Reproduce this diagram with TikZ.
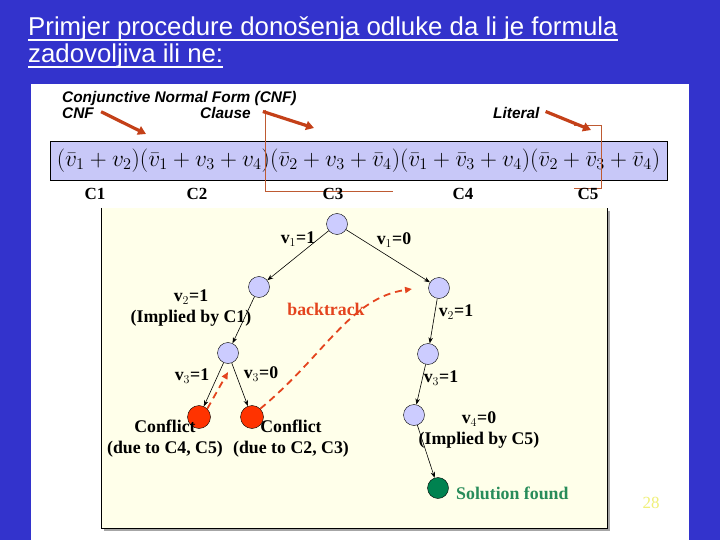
\documentclass[tikz,border=0pt]{standalone}
\usepackage{fontspec}
\setmainfont{Liberation Serif}
\setsansfont{Liberation Sans}
\usetikzlibrary{arrows.meta, positioning, calc}

\definecolor{slideblue}{RGB}{51,51,204}
\definecolor{cream}{RGB}{255,255,234}
\definecolor{lavender}{RGB}{200,200,248}
\definecolor{varfill}{RGB}{204,204,255}
\definecolor{pointerbrown}{RGB}{196,64,24}
\definecolor{bracketbrown}{RGB}{190,90,50}
\definecolor{conflictred}{RGB}{255,51,0}
\definecolor{backred}{RGB}{228,68,30}
\definecolor{solgreen}{RGB}{0,130,80}
\definecolor{soltext}{RGB}{40,140,90}
\definecolor{pageyellow}{RGB}{240,240,120}

\begin{document}
\begin{tikzpicture}[
    x=1pt, y=-1pt,
    title/.style={inner sep=0pt, text=white, font=\sffamily\fontsize{25.8}{30}\selectfont},
    cnflbl/.style={inner sep=0pt, font=\sffamily\bfseries\itshape\fontsize{15.4}{17}\selectfont},
    formula/.style={draw, fill=lavender, minimum width=617pt, minimum height=39pt, inner sep=0pt, font=\fontsize{20.74}{24}\selectfont},
    clslbl/.style={font=\bfseries\fontsize{17}{19}\selectfont},
    lbl/.style={align=center, inner sep=0pt, font=\bfseries\fontsize{17.8}{21}\selectfont},
    var/.style={circle, draw, fill=varfill, minimum size=21pt, inner sep=0pt},
    conflict/.style={var, fill=conflictred, minimum size=23pt},
    solution/.style={var, fill=solgreen, minimum size=21pt},
    edge/.style={-{Stealth[length=6pt, width=4.5pt]}, semithick},
    back/.style={-{Triangle[length=7pt, width=6pt]}, backred, line width=1.8pt, dash pattern=on 7pt off 5pt},
    pointer/.style={-{Triangle[length=8pt, width=9pt]}, pointerbrown, line width=3.2pt},
    bracket/.style={bracketbrown, line width=0.9pt}
]
    % slide
    \fill[slideblue] (0,0) rectangle (720,540);
    \fill[white] (31,84) rectangle (689,540);
    \useasboundingbox (0,0) rectangle (720,540);

    \node[title, anchor=base west] (ttl1) at (28,36) {Primjer procedure donošenja odluke da li je formula};
    \node[title, anchor=base west] (ttl2) at (28,63) {zadovoljiva ili ne:};
    \draw[white, line width=1.8pt] ($(ttl1.base west)+(0,4)$) -- ($(ttl1.base east)+(0,4)$);
    \draw[white, line width=1.8pt] ($(ttl2.base west)+(0,4)$) -- ($(ttl2.base east)+(0,4)$);

    % CNF formula
    \node[cnflbl, anchor=base west] (hdr) at (62,103) {Conjunctive Normal Form (CNF)};
    \node[cnflbl, anchor=base west] (lcnf) at (62,119) {CNF};
    \node[cnflbl, anchor=base west] (lcls) at (200,119) {Clause};
    \node[cnflbl, anchor=base west] (llit) at (493,119) {Literal};

    \node[formula] (cnf) at (358.5,160.5)
        {\scalebox{1.13}{$(\bar v_1+v_2)(\bar v_1+v_3+v_4)(\bar v_2+v_3+\bar v_4)(\bar v_1+\bar v_3+v_4)(\bar v_2+\bar v_3+\bar v_4)$}};

    \draw[bracket] (265,110) -- (265,191) -- (393,191);
    \draw[bracket] (574,125) -- (601,125) -- (601,188) -- (574,188);

    \coordinate (pcnf) at (146,134);
    \coordinate (pcls) at (314,128);
    \coordinate (plit) at (591,130);
    \draw[pointer] ($(lcnf.east)+(7,-2)$) -- (pcnf);
    \draw[pointer] ($(lcls.east)+(12,-2)$) -- (pcls);
    \draw[pointer] ($(llit.east)+(6,-2)$) -- (plit);

    \foreach \x/\n in {95/1, 197/2, 333/3, 463/4, 588/5}
        \node[clslbl] (cl\n) at (\x,194) {C\n};

    % search tree panel
    \fill[gray!70] (104,211) rectangle (610,531);
    \fill[cream] (101,208) rectangle (607,528);
    \draw (101,208) -- (101,528) -- (607,528) -- (607,208);

    \node[var] (root) at (337,224) {};
    \node[var] (a1) at (259,287) {};
    \node[var] (a2) at (228,353) {};
    \node[conflict] (k1) at (199,417) {};
    \node[conflict] (k2) at (252,417) {};
    \node[var] (b1) at (439,288) {};
    \node[var] (b2) at (428,354) {};
    \node[var] (b3) at (414,415) {};
    \node[solution] (sol) at (438,488) {};

    \draw[edge] (root) -- (a1);
    \draw[edge] (root) -- (b1);
    \draw[edge] (a1) -- (a2);
    \draw[edge] (a2) -- (k1);
    \draw[edge] (a2) -- (k2);
    \draw[edge] (b1) -- (b2);
    \draw[edge] (b2) -- (b3);
    \draw[edge] (b3) -- (sol);

    \node[lbl] (e1) at (298,239) {v$_1$=1};
    \node[lbl] (e2) at (394,240) {v$_1$=0};
    \node[lbl] (e3) at (191,308) {v$_2$=1\\(Implied by C1)};
    \node[lbl] (e4) at (192,376) {v$_3$=1};
    \node[lbl] (e5) at (261,374) {v$_3$=0};
    \node[lbl] (e6) at (456,312) {v$_2$=1};
    \node[lbl] (e7) at (441,378) {v$_3$=1};
    \node[lbl] (e8) at (479,430) {v$_4$=0\\(Implied by C5)};
    \node[lbl] (f1) at (165,439) {Conflict\\(due to C4, C5)};
    \node[lbl] (f2) at (291,439) {Conflict\\(due to C2, C3)};
    \node[lbl, text=soltext, anchor=west] (found) at (456,493) {Solution found};
    \node[lbl, text=backred] (bt) at (326,309) {backtrack};

    \coordinate (ret1) at (228,372);
    \coordinate (ret2) at (412,289);
    \draw[back] (k1.north east) -- (ret1);
    \draw[back] (k2.north east) .. controls (325,355) and (350,298) .. (ret2);

    \node[text=pageyellow, font=\fontsize{17}{19}\selectfont] (pg) at (651,503) {28};
\end{tikzpicture}
\end{document}
